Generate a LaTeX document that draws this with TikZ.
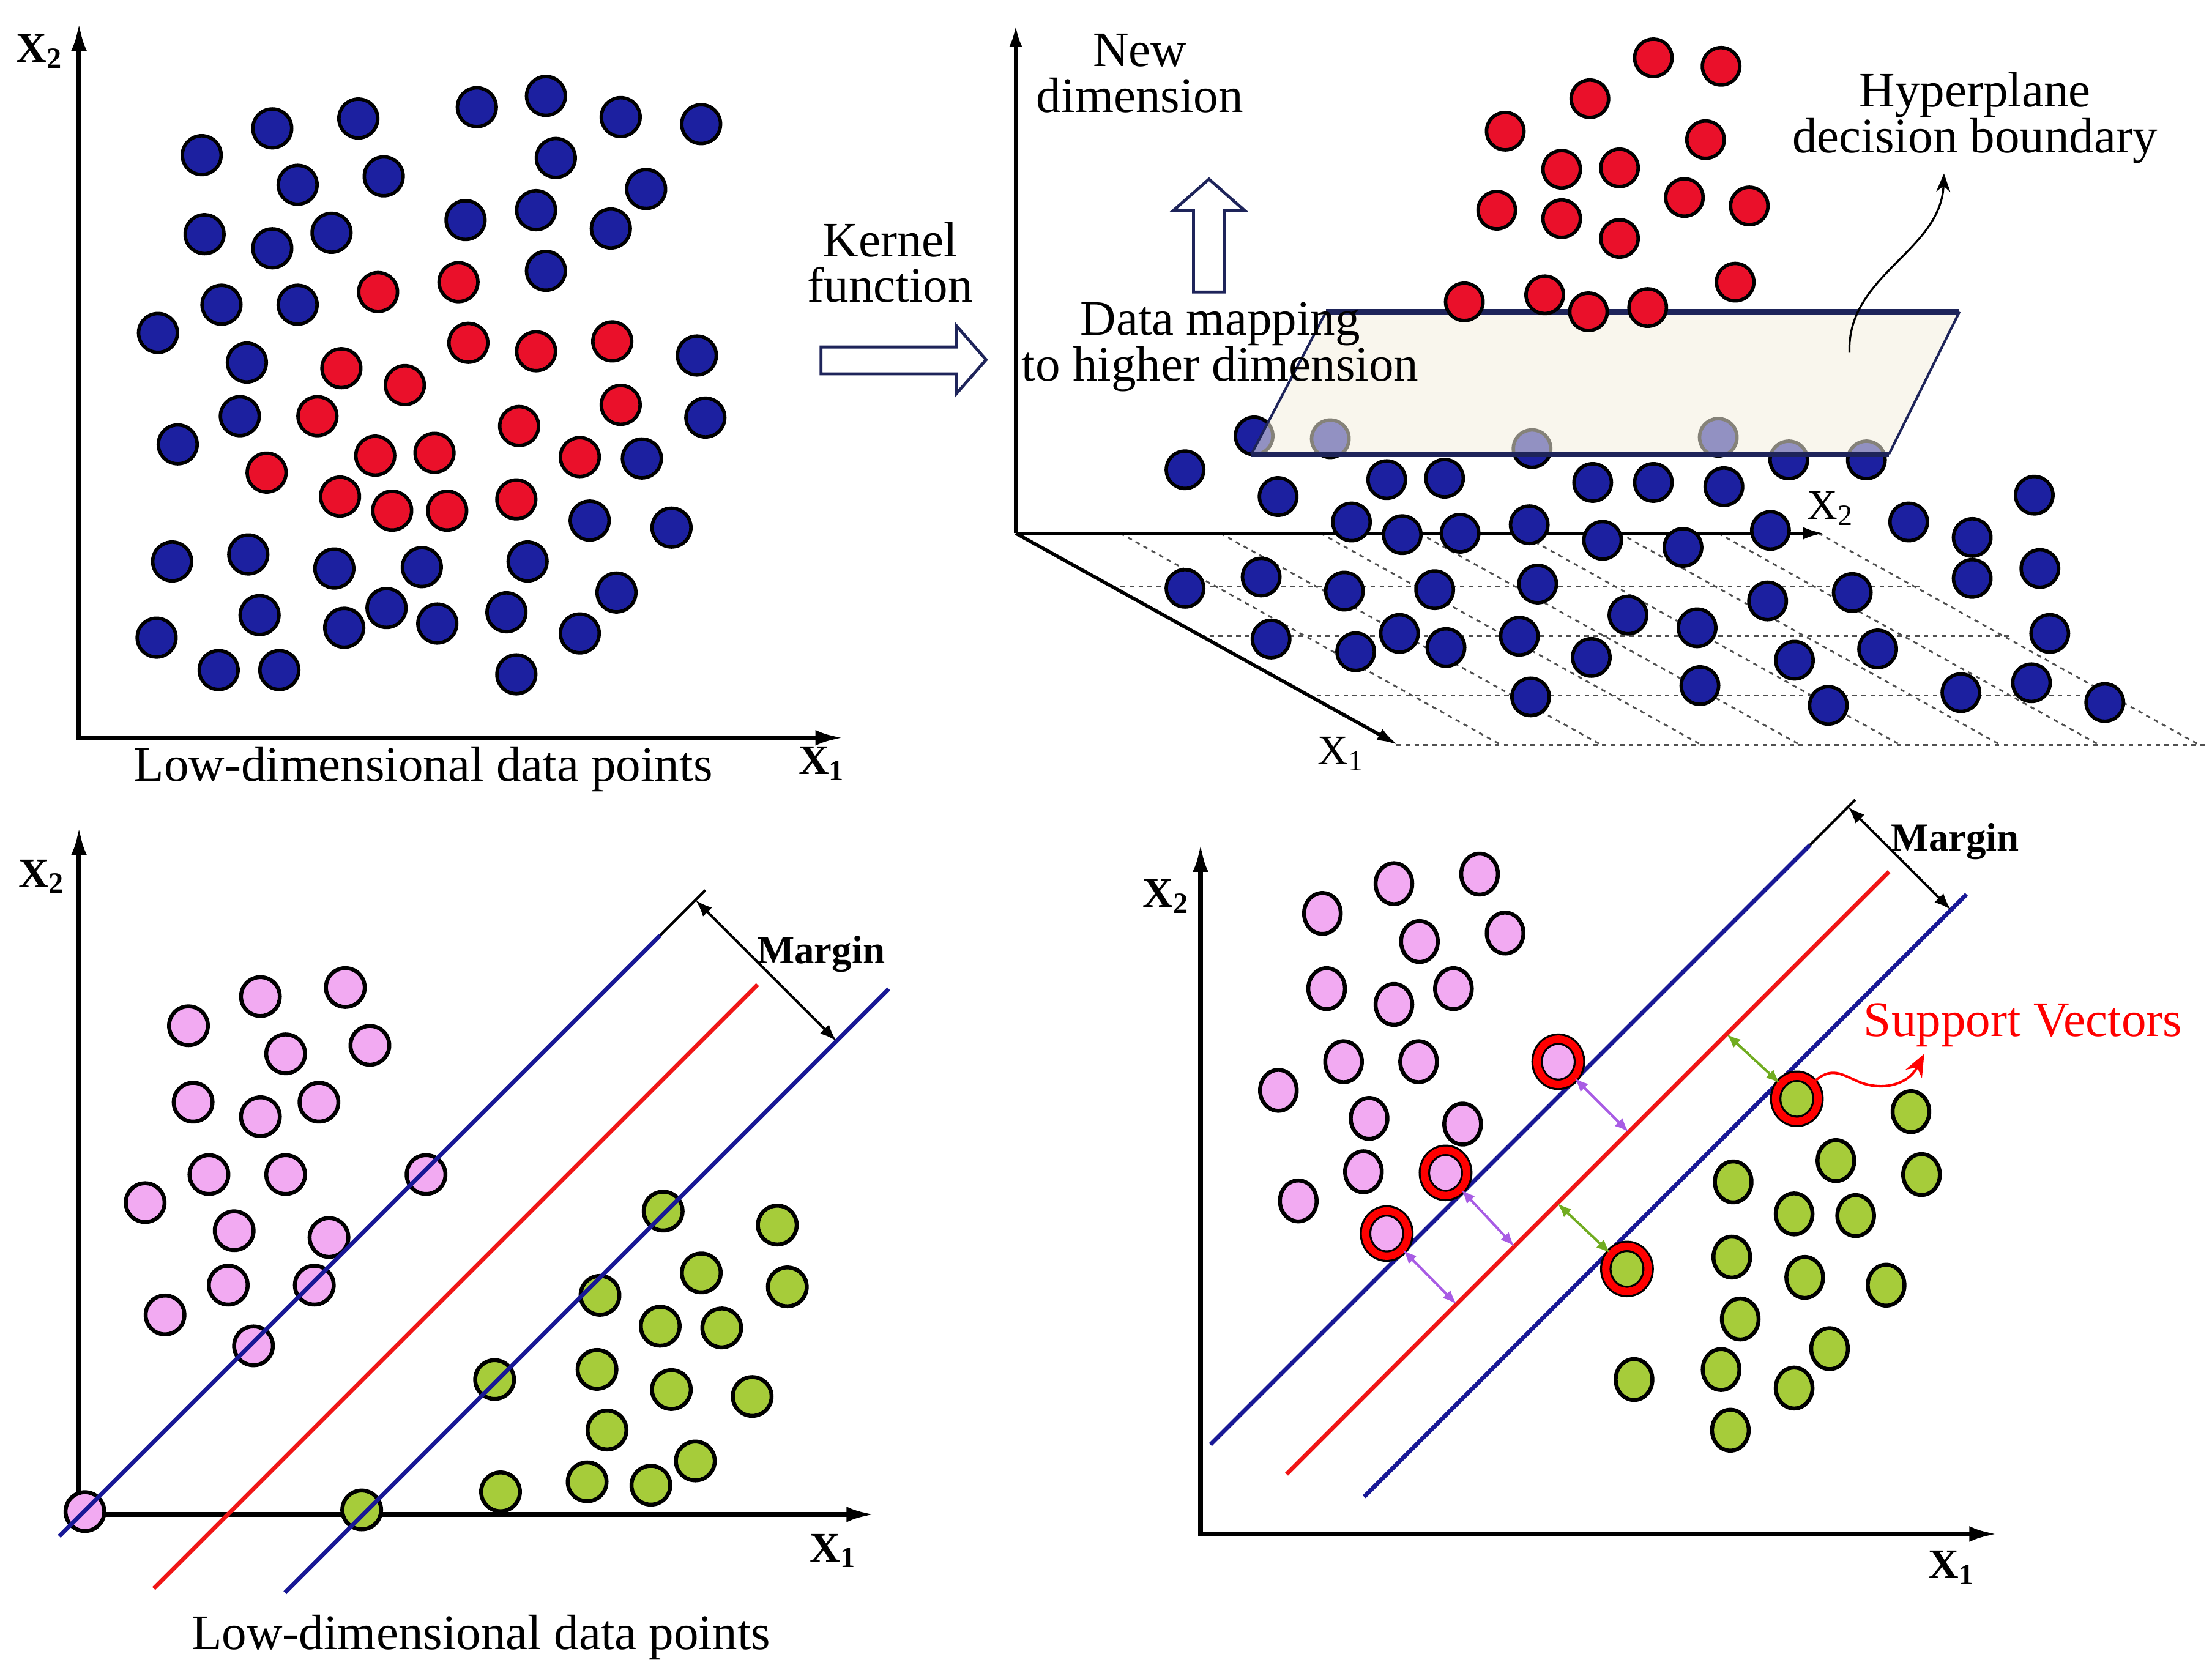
\documentclass[tikz,border=0pt]{standalone}
\usepackage{fontspec}
\setmainfont{Liberation Serif}
\usetikzlibrary{arrows.meta,shapes.geometric}

\definecolor{dotblue}{RGB}{28,32,160}
\definecolor{dotred}{RGB}{234,16,42}
\definecolor{dotpink}{RGB}{242,170,242}
\definecolor{dotgreen}{RGB}{166,204,58}
\definecolor{lineblue}{RGB}{24,24,150}
\definecolor{linered}{RGB}{240,22,22}
\definecolor{navy}{RGB}{30,36,90}
\definecolor{planefill}{RGB}{244,238,222}
\definecolor{arrpurple}{RGB}{168,92,228}
\definecolor{arrgreen}{RGB}{112,172,32}
\definecolor{gridgray}{RGB}{80,80,80}

\begin{document}
\begin{tikzpicture}[x=0.01cm,y=-0.01cm,
  txt/.style={font=\fontsize{10}{9.2}\selectfont,align=center,inner sep=0pt},
  axlbl/.style={font=\fontsize{8.5}{10}\selectfont\bfseries,inner sep=0pt,anchor=base},
  axlblthin/.style={font=\fontsize{8.5}{10}\selectfont,inner sep=0pt,anchor=base},
  mrg/.style={font=\fontsize{8}{10}\selectfont\bfseries,inner sep=0pt,anchor=base},
  axpair/.style={line width=1pt,{Latex[length=2mm,width=1.1mm]}-{Latex[length=2mm,width=1.1mm]}},
  axis3d/.style={line width=0.7pt,-{Latex[length=1.5mm,width=0.9mm]}},
  grid3d/.style={gridgray,line width=0.35pt,dash pattern=on 0.9pt off 0.9pt},
  bdot/.style={circle,draw=black,line width=0.7pt,fill=dotblue,minimum size=0.275cm,inner sep=0pt},
  rdot/.style={bdot,fill=dotred},
  hbdot/.style={bdot,minimum size=0.265cm},
  hrdot/.style={hbdot,fill=dotred},
  pdot/.style={circle,draw=black,line width=0.8pt,fill=dotpink,minimum size=0.275cm,inner sep=0pt},
  gdot/.style={pdot,fill=dotgreen},
  pell/.style={ellipse,draw=black,line width=0.8pt,fill=dotpink,minimum width=0.26cm,minimum height=0.29cm,inner sep=0pt},
  gell/.style={pell,fill=dotgreen},
  psv/.style={pell,line width=0.4pt,double=red,double distance=1.5pt,minimum width=0.3cm,minimum height=0.32cm},
  gsv/.style={psv,fill=dotgreen},
  blk/.style={draw=navy,line width=0.6pt,fill=white,line join=miter},
  sepline/.style={lineblue,line width=0.85pt},
  hypline/.style={linered,line width=0.85pt},
  guideline/.style={black,line width=0.5pt},
  marr/.style={black,line width=0.5pt,{Latex[length=1.2mm,width=0.9mm]}-{Latex[length=1.2mm,width=0.9mm]}},
  parr/.style={arrpurple,line width=0.5pt,{Latex[length=1mm,width=0.8mm]}-{Latex[length=1mm,width=0.8mm]}},
  garr/.style={parr,arrgreen},
  svarr/.style={red,line width=0.5pt,-{Stealth[length=1.6mm,width=1.3mm]}},
  curvarr/.style={black,line width=0.4pt,-{Stealth[length=1.3mm,width=1mm]}}]

  \useasboundingbox (0,0) rectangle (1568,1188);

  \coordinate (tlo) at (56,523);
  \coordinate (tly) at (56,16);
  \coordinate (tlx) at (598,523);
  \draw[axpair] (tly) -- (tlo) -- (tlx);

  \node[bdot] (lb1) at (143,110) {};
  \node[bdot] (lb2) at (193,91) {};
  \node[bdot] (lb3) at (254,84) {};
  \node[bdot] (lb4) at (338,76) {};
  \node[bdot] (lb5) at (387,68) {};
  \node[bdot] (lb6) at (440,83) {};
  \node[bdot] (lb7) at (497,88) {};
  \node[bdot] (lb8) at (211,131) {};
  \node[bdot] (lb9) at (272,125) {};
  \node[bdot] (lb10) at (394,112) {};
  \node[bdot] (lb11) at (458,134) {};
  \node[bdot] (lb12) at (145,166) {};
  \node[bdot] (lb13) at (193,176) {};
  \node[bdot] (lb14) at (235,165) {};
  \node[bdot] (lb15) at (330,156) {};
  \node[bdot] (lb16) at (380,149) {};
  \node[bdot] (lb17) at (433,162) {};
  \node[bdot] (lb18) at (387,192) {};
  \node[bdot] (lb19) at (157,216) {};
  \node[bdot] (lb20) at (211,216) {};
  \node[bdot] (lb21) at (112,236) {};
  \node[bdot] (lb22) at (175,257) {};
  \node[bdot] (lb23) at (494,252) {};
  \node[bdot] (lb24) at (170,295) {};
  \node[bdot] (lb25) at (500,296) {};
  \node[bdot] (lb26) at (126,315) {};
  \node[bdot] (lb27) at (455,325) {};
  \node[bdot] (lb28) at (418,369) {};
  \node[bdot] (lb29) at (476,374) {};
  \node[bdot] (lb30) at (122,398) {};
  \node[bdot] (lb31) at (176,393) {};
  \node[bdot] (lb32) at (237,403) {};
  \node[bdot] (lb33) at (299,402) {};
  \node[bdot] (lb34) at (374,398) {};
  \node[bdot] (lb35) at (437,420) {};
  \node[bdot] (lb36) at (184,436) {};
  \node[bdot] (lb37) at (111,452) {};
  \node[bdot] (lb38) at (244,445) {};
  \node[bdot] (lb39) at (274,431) {};
  \node[bdot] (lb40) at (310,442) {};
  \node[bdot] (lb41) at (359,434) {};
  \node[bdot] (lb42) at (411,449) {};
  \node[bdot] (lb43) at (155,475) {};
  \node[bdot] (lb44) at (198,475) {};
  \node[bdot] (lb45) at (366,478) {};

  \node[rdot] (lr1) at (268,207) {};
  \node[rdot] (lr2) at (325,200) {};
  \node[rdot] (lr3) at (242,261) {};
  \node[rdot] (lr4) at (287,273) {};
  \node[rdot] (lr5) at (332,243) {};
  \node[rdot] (lr6) at (380,249) {};
  \node[rdot] (lr7) at (434,242) {};
  \node[rdot] (lr8) at (225,295) {};
  \node[rdot] (lr9) at (440,287) {};
  \node[rdot] (lr10) at (368,302) {};
  \node[rdot] (lr11) at (189,335) {};
  \node[rdot] (lr12) at (266,323) {};
  \node[rdot] (lr13) at (308,321) {};
  \node[rdot] (lr14) at (411,324) {};
  \node[rdot] (lr15) at (241,352) {};
  \node[rdot] (lr16) at (278,362) {};
  \node[rdot] (lr17) at (317,362) {};
  \node[rdot] (lr18) at (366,354) {};

  \node[axlbl] (tlx2) at (28.5,44) {X\textsubscript{2}};
  \node[axlbl] (tlx1) at (583,549) {X\textsubscript{1}};
  \node[txt,anchor=base] (tlcap) at (300,553.8) {Low-dimensional data points};

  \node[txt] (kernel) at (631,186) {Kernel\\function};
  \draw[blk] (582,246) -- (678,246) -- (678,231) -- (699,255) -- (678,279) -- (678,265) -- (582,265) -- cycle;

  \draw[grid3d] (788,416) -- (1363,416);
  \draw[grid3d] (851,451) -- (1426,451);
  \draw[grid3d] (927,493) -- (1502,493);
  \draw[grid3d] (990,528) -- (1565,528);
  \draw[grid3d] (794,378) -- (1064,528);
  \draw[grid3d] (865,378) -- (1135,528);
  \draw[grid3d] (936,378) -- (1206,528);
  \draw[grid3d] (1006,378) -- (1276,528);
  \draw[grid3d] (1077,378) -- (1347,528);
  \draw[grid3d] (1148,378) -- (1418,528);
  \draw[grid3d] (1218,378) -- (1488,528);
  \draw[grid3d] (1289,378) -- (1559,528);

  \coordinate (tro) at (720,378);
  \coordinate (trz) at (720,18);
  \coordinate (trx2) at (1293,378);
  \coordinate (trx1) at (991,528);
  \draw[axis3d] (tro) -- (trz);
  \draw[axis3d] (tro) -- (trx2);
  \draw[axis3d] (tro) -- (trx1);

  \node[hbdot] (hb1) at (889,309) {};
  \node[hbdot] (hb2) at (943,311) {};
  \node[hbdot] (hb3) at (1086,318) {};
  \node[hbdot] (hb4) at (1218,310) {};
  \node[hbdot] (hb5) at (1268,326) {};
  \node[hbdot] (hb6) at (1323,326) {};
  \node[hbdot] (hb7) at (840,333) {};
  \node[hbdot] (hb8) at (906,352) {};
  \node[hbdot] (hb9) at (983,340) {};
  \node[hbdot] (hb10) at (1024,339) {};
  \node[hbdot] (hb11) at (1129,342) {};
  \node[hbdot] (hb12) at (1172,342) {};
  \node[hbdot] (hb13) at (1222,345) {};
  \node[hbdot] (hb14) at (958,370) {};
  \node[hbdot] (hb15) at (994,379) {};
  \node[hbdot] (hb16) at (1035,378) {};
  \node[hbdot] (hb17) at (1084,372) {};
  \node[hbdot] (hb18) at (1136,383) {};
  \node[hbdot] (hb19) at (1193,388) {};
  \node[hbdot] (hb20) at (1255,376) {};
  \node[hbdot] (hb21) at (1353,370) {};
  \node[hbdot] (hb22) at (1398,381) {};
  \node[hbdot] (hb23) at (1442,351) {};
  \node[hbdot] (hb24) at (1398,410) {};
  \node[hbdot] (hb25) at (1446,403) {};
  \node[hbdot] (hb26) at (840,417) {};
  \node[hbdot] (hb27) at (894,409) {};
  \node[hbdot] (hb28) at (953,419) {};
  \node[hbdot] (hb29) at (1017,418) {};
  \node[hbdot] (hb30) at (1090,414) {};
  \node[hbdot] (hb31) at (1154,436) {};
  \node[hbdot] (hb32) at (1203,445) {};
  \node[hbdot] (hb33) at (1253,426) {};
  \node[hbdot] (hb34) at (1313,420) {};
  \node[hbdot] (hb35) at (901,453) {};
  \node[hbdot] (hb36) at (961,462) {};
  \node[hbdot] (hb37) at (992,449) {};
  \node[hbdot] (hb38) at (1025,459) {};
  \node[hbdot] (hb39) at (1077,451) {};
  \node[hbdot] (hb40) at (1128,466) {};
  \node[hbdot] (hb41) at (1205,486) {};
  \node[hbdot] (hb42) at (1272,468) {};
  \node[hbdot] (hb43) at (1331,460) {};
  \node[hbdot] (hb44) at (1453,449) {};
  \node[hbdot] (hb45) at (1085,494) {};
  \node[hbdot] (hb46) at (1296,500) {};
  \node[hbdot] (hb47) at (1390,491) {};
  \node[hbdot] (hb48) at (1440,484) {};
  \node[hbdot] (hb49) at (1492,498) {};

  \fill[planefill,fill opacity=0.55] (940,221) -- (1389,221) -- (1339,322) -- (887,322) -- cycle;
  \draw[navy,line width=0.5pt] (940,221) -- (887,322) (1389,221) -- (1339,322);
  \draw[navy,line width=1.1pt] (940,221) -- (1389,221) (887,322) -- (1339,322);

  \node[hrdot] (hr1) at (1172,41) {};
  \node[hrdot] (hr2) at (1220,47) {};
  \node[hrdot] (hr3) at (1127,70) {};
  \node[hrdot] (hr4) at (1067,93) {};
  \node[hrdot] (hr5) at (1209,99) {};
  \node[hrdot] (hr6) at (1107,120) {};
  \node[hrdot] (hr7) at (1148,119) {};
  \node[hrdot] (hr8) at (1061,149) {};
  \node[hrdot] (hr9) at (1107,155) {};
  \node[hrdot] (hr10) at (1194,140) {};
  \node[hrdot] (hr11) at (1240,146) {};
  \node[hrdot] (hr12) at (1148,169) {};
  \node[hrdot] (hr13) at (1230,200) {};
  \node[hrdot] (hr14) at (1038,214) {};
  \node[hrdot] (hr15) at (1095,209) {};
  \node[hrdot] (hr16) at (1126,221) {};
  \node[hrdot] (hr17) at (1168,218) {};

  \node[txt] (newdim) at (808,52) {New\\dimension};
  \draw[blk] (846,207) -- (846,149) -- (832,149) -- (857,127) -- (882,149) -- (868,149) -- (868,207) -- cycle;
  \node[txt] (mapping) at (865,246) {Data mapping\\to higher dimension};
  \node[txt] (hyper) at (1400,83.5) {Hyperplane\\decision boundary};
  \coordinate (hp) at (1311,250);
  \coordinate (hptip) at (1378,123);
  \draw[curvarr] (hp) .. controls (1309,195) and (1376,178) .. (hptip);
  \node[axlblthin] (trlx2) at (1298,368) {X\textsubscript{2}};
  \node[axlblthin] (trlx1) at (951,542) {X\textsubscript{1}};

  \coordinate (blo) at (56,1073.5);
  \coordinate (bly) at (56,586);
  \coordinate (blx) at (620,1073.5);
  \draw[axpair] (bly) -- (blo) -- (blx);

  \node[pdot] (pa1) at (184.6,706.4) {};
  \node[pdot] (pa2) at (244.8,700) {};
  \node[pdot] (pa3) at (133.6,727.1) {};
  \node[pdot] (pa4) at (202.5,747) {};
  \node[pdot] (pa5) at (262.2,741) {};
  \node[pdot] (pa6) at (136.9,781.3) {};
  \node[pdot] (pa7) at (184.6,791.6) {};
  \node[pdot] (pa8) at (226.1,781.3) {};
  \node[pdot] (pa9) at (148.1,832.6) {};
  \node[pdot] (pa10) at (202.5,832.6) {};
  \node[pdot] (pa11) at (302,832.6) {};
  \node[pdot] (pa12) at (102.9,852.5) {};
  \node[pdot] (pa13) at (166,872.4) {};
  \node[pdot] (pa14) at (233.2,877.2) {};
  \node[pdot] (pa15) at (161.8,911) {};
  \node[pdot] (pa16) at (222.8,911) {};
  \node[pdot] (pa17) at (117,932.1) {};
  \node[pdot] (pa18) at (179.7,954) {};
  \node[pdot] (pa19) at (60.2,1071.5) {};

  \node[gdot] (ga1) at (470.1,858.5) {};
  \node[gdot] (ga2) at (551,868.4) {};
  \node[gdot] (ga3) at (497.1,902.3) {};
  \node[gdot] (ga4) at (558.1,912.2) {};
  \node[gdot] (ga5) at (425.3,918.2) {};
  \node[gdot] (ga6) at (468,940.1) {};
  \node[gdot] (ga7) at (511.6,941.3) {};
  \node[gdot] (ga8) at (350.6,977.9) {};
  \node[gdot] (ga9) at (423.2,970.7) {};
  \node[gdot] (ga10) at (475.9,985) {};
  \node[gdot] (ga11) at (533.2,989.9) {};
  \node[gdot] (ga12) at (430.3,1013.7) {};
  \node[gdot] (ga13) at (492.9,1035.6) {};
  \node[gdot] (ga14) at (416.2,1050.4) {};
  \node[gdot] (ga15) at (461.4,1052.8) {};
  \node[gdot] (ga16) at (354.8,1057.5) {};
  \node[gdot] (ga17) at (256.4,1070.3) {};

  \coordinate (au1) at (42,1089);
  \coordinate (au2) at (468,663);
  \coordinate (ag) at (500,631);
  \coordinate (ar1) at (109,1126);
  \coordinate (ar2) at (537,698);
  \coordinate (al1) at (202,1129);
  \coordinate (al2) at (630,701);
  \coordinate (am1) at (493,638);
  \coordinate (am2) at (593,738);
  \draw[sepline] (au1) -- (au2);
  \draw[guideline] (au2) -- (ag);
  \draw[hypline] (ar1) -- (ar2);
  \draw[sepline] (al1) -- (al2);
  \draw[marr] (am1) -- (am2);
  \node[mrg] (blmargin) at (582,683) {Margin};

  \node[axlbl] (bllx2) at (30,629) {X\textsubscript{2}};
  \node[axlbl] (bllx1) at (591,1107) {X\textsubscript{1}};
  \node[txt,anchor=base] (blcap) at (341,1169) {Low-dimensional data points};

  \coordinate (bro) at (851,1087.4);
  \coordinate (bry) at (851,598);
  \coordinate (brx) at (1416,1087.4);
  \draw[axpair] (bry) -- (bro) -- (brx);

  \coordinate (bu1) at (858,1024);
  \coordinate (bu2) at (1283,599);
  \coordinate (bg) at (1315,567);
  \coordinate (br1) at (912,1045);
  \coordinate (br2) at (1339,618);
  \coordinate (bl1) at (967,1061);
  \coordinate (bl2) at (1394,634);
  \coordinate (bm1) at (1310,572);
  \coordinate (bm2) at (1383,645);
  \draw[sepline] (bu1) -- (bu2);
  \draw[guideline] (bu2) -- (bg);
  \draw[hypline] (br1) -- (br2);
  \draw[sepline] (bl1) -- (bl2);

  \node[pell] (pb1) at (937.4,647.5) {};
  \node[pell] (pb2) at (988.1,626.4) {};
  \node[pell] (pb3) at (1048.8,619.6) {};
  \node[pell] (pb4) at (1006.2,667.4) {};
  \node[pell] (pb5) at (1066.9,661.4) {};
  \node[pell] (pb6) at (940.4,700.8) {};
  \node[pell] (pb7) at (988.1,712) {};
  \node[pell] (pb8) at (1030.3,700.8) {};
  \node[pell] (pb9) at (952.4,752.6) {};
  \node[pell] (pb10) at (1005.6,752.6) {};
  \node[psv] (pb11) at (1104.6,752.6) {};
  \node[pell] (pb12) at (906.2,772.9) {};
  \node[pell] (pb13) at (970.5,792.8) {};
  \node[pell] (pb14) at (1036.8,796.8) {};
  \node[pell] (pb15) at (966.5,830.6) {};
  \node[psv] (pb16) at (1024.7,831.4) {};
  \node[pell] (pb17) at (920.3,851.3) {};
  \node[psv] (pb18) at (983,874.4) {};

  \node[gsv] (gb1) at (1273.7,778.9) {};
  \node[gell] (gb2) at (1354.6,788) {};
  \node[gell] (gb3) at (1301.4,822.7) {};
  \node[gell] (gb4) at (1362.1,832.6) {};
  \node[gell] (gb5) at (1228.6,837.8) {};
  \node[gell] (gb6) at (1271.8,860.5) {};
  \node[gell] (gb7) at (1315.4,861.7) {};
  \node[gsv] (gb8) at (1153.3,899.5) {};
  \node[gell] (gb9) at (1227.6,891.1) {};
  \node[gell] (gb10) at (1279.3,905.5) {};
  \node[gell] (gb11) at (1337,911) {};
  \node[gell] (gb12) at (1233.6,935) {};
  \node[gell] (gb13) at (1296.9,956) {};
  \node[gell] (gb14) at (1158.3,977.9) {};
  \node[gell] (gb15) at (1220,970.8) {};
  \node[gell] (gb16) at (1271.8,983.9) {};
  \node[gell] (gb17) at (1226.6,1013.8) {};

  \coordinate (ba1) at (1154.5,802.5);
  \coordinate (ba2) at (1073.5,883.5);
  \coordinate (ba3) at (1032.5,924.5);
  \coordinate (ba4) at (1224,733);
  \coordinate (ba5) at (1104,853);
  \draw[parr] (pb11) -- (ba1);
  \draw[parr] (pb16) -- (ba2);
  \draw[parr] (pb18) -- (ba3);
  \draw[garr] (ba4) -- (gb1);
  \draw[garr] (ba5) -- (gb8);

  \draw[marr] (bm1) -- (bm2);
  \node[mrg] (brmargin) at (1386,603) {Margin};

  \node[txt,anchor=base,text=red] (svlbl) at (1434,734.5) {Support Vectors};
  \coordinate (svtip) at (1364,747);
  \draw[svarr] (gb1) .. controls (1298,755) and (1306,762) .. (1318,767) .. controls (1333,773) and (1352,770) .. (svtip);

  \node[axlbl] (brlx2) at (827,643) {X\textsubscript{2}};
  \node[axlbl] (brlx1) at (1384,1119) {X\textsubscript{1}};
\end{tikzpicture}
\end{document}
